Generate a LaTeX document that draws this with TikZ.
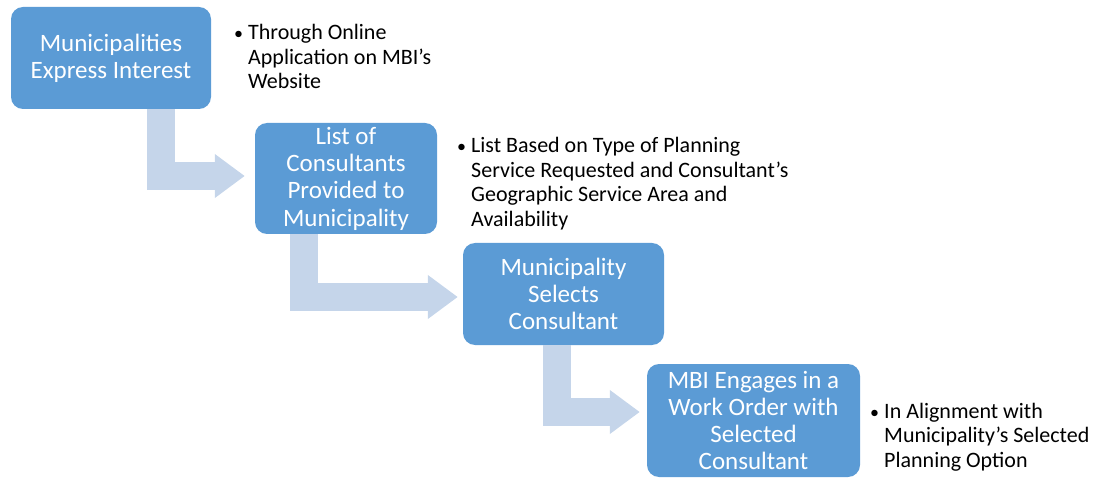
\documentclass[tikz,border=0pt]{standalone}
\usepackage{fontspec}
\setmainfont{Carlito}
\usetikzlibrary{positioning,calc,arrows.meta}
\definecolor{stepblue}{HTML}{5B9BD5}
\definecolor{flowblue}{HTML}{C5D5EA}
\newcommand{\bulletrow}{\makebox[14pt][l]{\fontsize{18}{18}\selectfont\textbullet}}
\tikzset{
    % Box of one step of the process
    stepbox/.style={fill=stepblue, rounded corners=12pt, text=white,
                    align=center, inner sep=2pt,
                    font=\fontsize{25}{27.3}\selectfont},
    % Bullet notes beside the boxes
    note/.style={anchor=base west, inner sep=0pt,
                 font=\fontsize{22}{24.5}\selectfont},
    % Bent arrow from a step to the next one
    flow/.style={draw=flowblue, line width=28pt,
                 -{Triangle[length=30pt,width=42pt]}}
}
\begin{document}
\begin{tikzpicture}[x=1pt,y=-1pt]
    \useasboundingbox (0,0) rectangle (1095,486);
    \node[stepbox, minimum width=200pt, minimum height=102pt] (interest)
        at (111,58) {Municipalities\\Express Interest};
    \node[stepbox, minimum width=182pt, minimum height=111pt] (list)
        at (346,178.5) {List of\\Consultants\\Provided to\\Municipality};
    \node[stepbox, minimum width=201pt, minimum height=102pt] (selects)
        at (563.5,294) {Municipality\\Selects\\Consultant};
    \node[stepbox, minimum width=213pt, minimum height=113pt] (engages)
        at (753.5,420.5) {MBI Engages in a\\Work Order with\\Selected\\Consultant};

    \draw[flow] ([xshift=50pt]interest.south) |- ([xshift=-10pt,yshift=2.5pt]list.west);
    \draw[flow] ([xshift=-42pt]list.south) |- ([xshift=-5pt,yshift=-3pt]selects.west);
    \draw[flow] ([xshift=-6.5pt]selects.south) |- ([xshift=-7pt,yshift=8.5pt]engages.west);

    \node[note] (interestnote) at (234,40) {\begin{tabular}[t]{@{}l@{}l@{}}
        \bulletrow & Through Online\\ & Application on MBI’s\\ & Website\end{tabular}};
    \node[note] (listnote) at (457,153) {\begin{tabular}[t]{@{}l@{}l@{}}
        \bulletrow & List Based on Type of Planning\\
        & Service Requested and Consultant’s\\
        & Geographic Service Area and\\ & Availability\end{tabular}};
    \node[note] (engagesnote) at (870,418) {\begin{tabular}[t]{@{}l@{}l@{}}
        \bulletrow & In Alignment with\\ & Municipality’s Selected\\
        & Planning Option\end{tabular}};
\end{tikzpicture}
\end{document}
